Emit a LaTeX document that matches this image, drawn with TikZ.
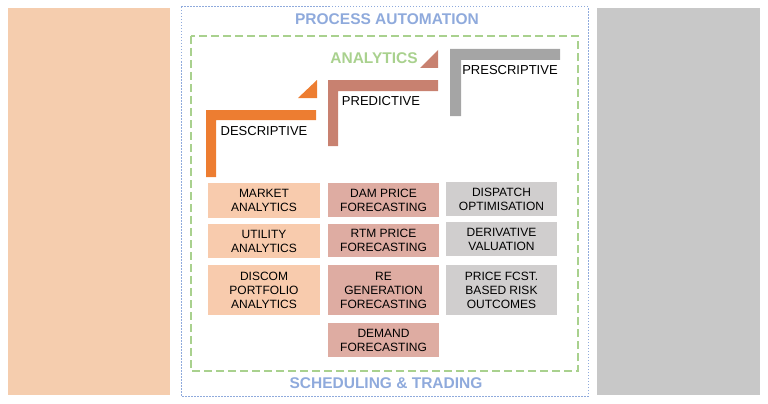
\documentclass[tikz,border=0pt]{standalone}
\usepackage{fontspec}
\setmainfont{Liberation Sans}
\definecolor{panelpeach}{HTML}{F5CDAE}
\definecolor{panelgrey}{HTML}{C8C8C8}
\definecolor{autoblue}{HTML}{8FAADC}
\definecolor{anagreen}{HTML}{A9D18E}
\definecolor{descorange}{HTML}{ED7D31}
\definecolor{predrose}{HTML}{C88170}
\definecolor{prescgrey}{HTML}{A5A5A5}
\definecolor{boxpeach}{HTML}{F8CBAD}
\definecolor{boxrose}{HTML}{DEACA2}
\definecolor{boxgrey}{HTML}{D0CECE}
\tikzset{
  box/.style={align=center, inner sep=0pt, minimum width=111pt,
    font=\fontsize{12}{14}\selectfont},
  stage/.style={inner sep=0pt, font=\fontsize{13}{15}\selectfont},
  heading/.style={inner sep=0pt, font=\bfseries\fontsize{15.5}{17}\selectfont}
}
\begin{document}
\begin{tikzpicture}[x=1pt,y=-1pt]
            \useasboundingbox (0,0) rectangle (768,404);
            % Pannelli
            \fill[panelpeach] (8,8) rectangle (170,395);
            \fill[panelgrey] (597,8) rectangle (760,395);
            % Cornici
            \draw[autoblue,dash pattern=on 1.5pt off 1.5pt,line width=1pt] (181,7) rectangle (588,396);
            \draw[anagreen,dash pattern=on 8pt off 4pt,line width=1.2pt] (191,36) rectangle (578,371);
            \node[heading,text=autoblue] (auto) at (387,19) {PROCESS AUTOMATION};
            \node[heading,text=autoblue] (sched) at (386,383) {SCHEDULING \& TRADING};
            \node[heading,text=anagreen] (analytics) at (374,58) {ANALYTICS};
            % Gradini
            \fill[descorange] (206,110) -- (316,110) -- (316,120) -- (216,120) -- (216,177) -- (206,177) -- cycle;
            \fill[descorange] (298,98) -- (317,80) -- (317,98) -- cycle;
            \fill[predrose] (328,80) -- (438,80) -- (438,91) -- (338,91) -- (338,146) -- (328,146) -- cycle;
            \fill[predrose] (420,68) -- (438,50) -- (438,68) -- cycle;
            \fill[prescgrey] (450,49) -- (560,49) -- (560,60) -- (461,60) -- (461,116) -- (450,116) -- cycle;
            \node[stage] (desc) at (264,131) {DESCRIPTIVE};
            \node[stage] (pred) at (381,101) {PREDICTIVE};
            \node[stage] (presc) at (510,70) {PRESCRIPTIVE};
            % Descrittiva
            \node[box,fill=boxpeach,minimum width=112pt,minimum height=35pt] (market) at (264,200.5) {MARKET\\ANALYTICS};
            \node[box,fill=boxpeach,minimum width=112pt,minimum height=34pt] (utility) at (264,241) {UTILITY\\ANALYTICS};
            \node[box,fill=boxpeach,minimum width=112pt,minimum height=50pt] (discom) at (264,290) {DISCOM\\PORTFOLIO\\ANALYTICS};
            % Predittiva
            \node[box,fill=boxrose,minimum height=34pt] (dam) at (383.5,200) {DAM PRICE\\FORECASTING};
            \node[box,fill=boxrose,minimum height=33pt] (rtm) at (383.5,240.5) {RTM PRICE\\FORECASTING};
            \node[box,fill=boxrose,minimum height=50pt] (regen) at (383.5,290) {RE\\GENERATION\\FORECASTING};
            \node[box,fill=boxrose,minimum height=34pt] (demand) at (383.5,340) {DEMAND\\FORECASTING};
            % Prescrittiva
            \node[box,fill=boxgrey,minimum height=34pt] (dispatch) at (501.5,199) {DISPATCH\\OPTIMISATION};
            \node[box,fill=boxgrey,minimum height=34pt] (deriv) at (501.5,239) {DERIVATIVE\\VALUATION};
            \node[box,fill=boxgrey,minimum height=50pt] (risk) at (501.5,290) {PRICE FCST.\\BASED RISK\\OUTCOMES};
\end{tikzpicture}
\end{document}
